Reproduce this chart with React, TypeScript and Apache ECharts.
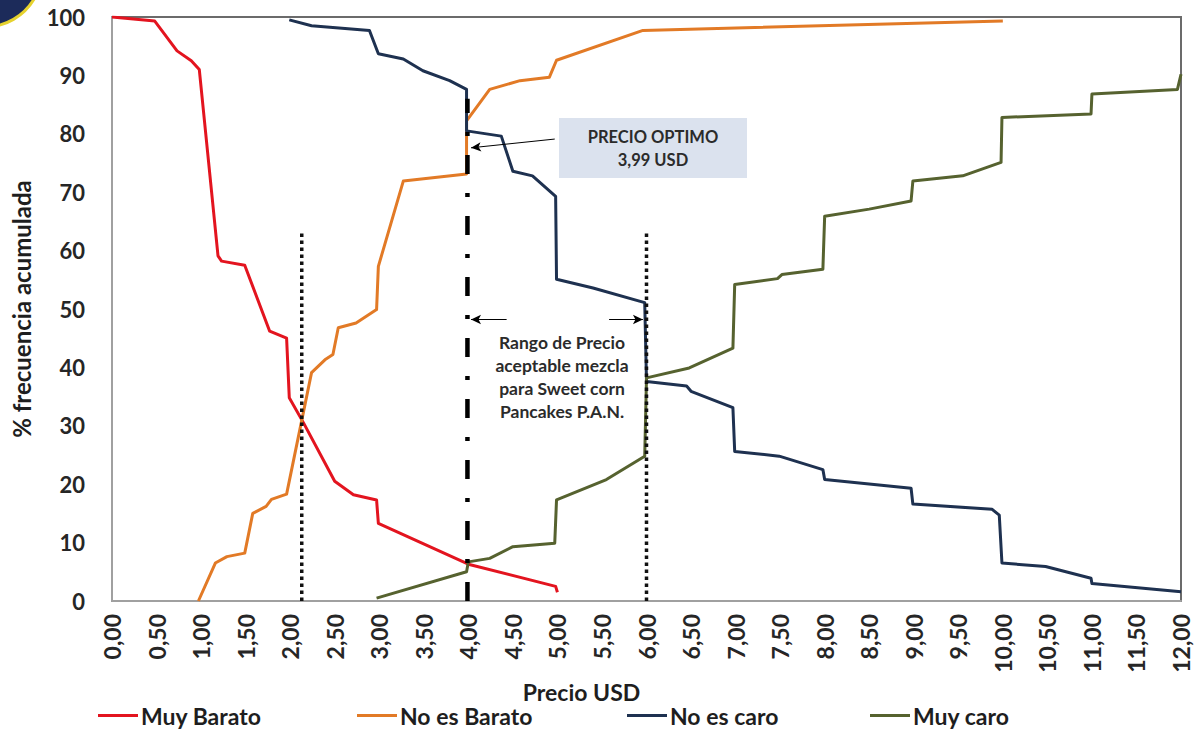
import React, { useEffect, useRef } from "react";
import * as echarts from "echarts";

// ---- Data ----
const xTicks = { min: 0, max: 12, interval: 0.5 };
const yTicks = { min: 0, max: 100, interval: 10 };

const muyBaratoX = [0, 0.48, 0.73, 0.89, 0.98, 1.19, 1.23, 1.49, 1.77, 1.96, 1.99, 2.15, 2.5, 2.71, 2.97, 2.99, 4.0, 4.98, 5.0];
const muyBaratoY = [100, 99.3, 94.2, 92.5, 91, 59.1, 58.2, 57.5, 46.2, 45, 34.8, 30.5, 20.5, 18.2, 17.3, 13.3, 6.3, 2.5, 1.5];

const noEsBaratoX = [0.97, 1.16, 1.29, 1.49, 1.58, 1.73, 1.79, 1.96, 2.24, 2.39, 2.48, 2.54, 2.74, 2.97, 2.99, 3.27, 3.98, 3.98, 4.24, 4.58, 4.91, 4.99, 5.96, 10.0];
const noEsBaratoY = [0, 6.5, 7.6, 8.2, 15, 16.2, 17.4, 18.3, 39.1, 41.3, 42.2, 46.8, 47.6, 49.9, 57.3, 71.9, 73.1, 82.2, 87.6, 89.1, 89.7, 92.6, 97.7, 99.3];

const noEsCaroX = [1.99, 2.24, 2.89, 2.99, 3.27, 3.49, 3.79, 3.98, 3.98, 4.37, 4.5, 4.72, 4.98, 4.99, 5.4, 5.98, 6.0, 6.45, 6.5, 6.97, 6.99, 7.49, 7.98, 8.0, 8.97, 8.99, 9.88, 9.96, 9.99, 10.48, 10.99, 11.0, 12.0];
const noEsCaroY = [99.5, 98.5, 97.7, 93.7, 92.8, 90.8, 89.1, 87.6, 80.5, 79.6, 73.6, 72.8, 69.3, 55.1, 53.6, 51.1, 37.6, 36.8, 35.9, 33.1, 25.6, 24.8, 22.5, 20.8, 19.3, 16.6, 15.7, 14.7, 6.5, 5.9, 3.9, 3.0, 1.6];

const muyCaroX = [2.97, 3.98, 4.0, 4.24, 4.5, 4.97, 4.99, 5.55, 5.98, 6.0, 6.48, 6.97, 6.99, 7.47, 7.52, 7.98, 8.0, 8.5, 8.97, 8.99, 9.55, 9.98, 9.99, 10.99, 11.0, 11.96, 12.0];
const muyCaroY = [0.5, 5.0, 6.7, 7.3, 9.3, 9.9, 17.3, 20.8, 24.8, 38.2, 39.9, 43.3, 54.2, 55.2, 55.9, 56.8, 65.9, 67.1, 68.5, 71.9, 72.8, 75.1, 82.8, 83.4, 86.8, 87.6, 90.2];

const seriesNames = ["Muy Barato", "No es Barato", "No es caro", "Muy caro"];
const seriesColors = ["#e3141f", "#e27a26", "#1e3150", "#56622f"];

// annotation values
const optimoPrice = 3.99;
const optimoTop = 86;
const rangeLowPrice = 2.13;
const rangeLowTop = 63.5;
const rangeHighPrice = 6.0;
const rangeHighTop = 63;
const optimoArrow = { from: [4.97, 79.1], to: [4.03, 77.6] };
const rangeArrowY = 48.2;
const rangeArrowLeft = { from: 4.43, to: 4.03 };
const rangeArrowRight = { from: 5.58, to: 5.96 };

const optimoLabel = ["PRECIO OPTIMO", "3,99 USD"];
const rangoLabel = ["Rango de Precio", "aceptable mezcla", "para Sweet corn", "Pancakes P.A.N."];

const zip = (xs: number[], ys: number[]) => xs.map((x, i) => [x, ys[i]]);
const fmt = (v: number) => v.toFixed(2).replace(".", ",");

const FONT = "Lato, 'Open Sans', sans-serif";

export default function App() {
  const ref = useRef<HTMLDivElement>(null);

  useEffect(() => {
    if (!ref.current) return;
    const chart = echarts.init(ref.current, undefined, { renderer: "svg" });

    const dataSets = [
      zip(muyBaratoX, muyBaratoY),
      zip(noEsBaratoX, noEsBaratoY),
      zip(noEsCaroX, noEsCaroY),
      zip(muyCaroX, muyCaroY),
    ];

    const mainSeries = seriesNames.map((name, i) => ({
      name,
      type: "line",
      data: dataSets[i],
      symbol: "none",
      color: seriesColors[i],
      lineStyle: { color: seriesColors[i], width: 3, join: "round" },
      z: 3,
    }));

    const arrowLine = (from: number[], to: number[]) => [
      { coord: from, symbol: "none" },
      { coord: to, symbol: "arrow" },
    ];

    const annotationSeries = [
      {
        name: "rangeLow",
        type: "line",
        data: [[rangeLowPrice, 0], [rangeLowPrice, rangeLowTop]],
        symbol: "none",
        lineStyle: { color: "#111", width: 3.5, type: [3.5, 3.5] },
        z: 4,
        silent: true,
      },
      {
        name: "rangeHigh",
        type: "line",
        data: [[rangeHighPrice, 0], [rangeHighPrice, rangeHighTop]],
        symbol: "none",
        lineStyle: { color: "#111", width: 3.5, type: [3.5, 3.5] },
        z: 4,
        silent: true,
      },
      {
        name: "optimo",
        type: "line",
        data: [[optimoPrice, 0], [optimoPrice, optimoTop]],
        symbol: "none",
        lineStyle: { color: "#000", width: 4.5, type: [19, 19, 4, 19] },
        z: 4,
        silent: true,
        markLine: {
          silent: true,
          animation: false,
          symbolSize: [7, 10],
          lineStyle: { color: "#000", width: 1, type: "solid" },
          label: { show: false },
          data: [
            arrowLine(optimoArrow.from, optimoArrow.to),
            arrowLine([rangeArrowLeft.from, rangeArrowY], [rangeArrowLeft.to, rangeArrowY]),
            arrowLine([rangeArrowRight.from, rangeArrowY], [rangeArrowRight.to, rangeArrowY]),
          ],
        },
      },
    ];

    const legendLefts = [98, 357, 627, 870];

    chart.setOption({
      animation: false,
      backgroundColor: "#ffffff",
      grid: {
        left: 112,
        right: 14,
        top: 17,
        bottom: 133,
        show: true,
        borderColor: "#6b6b6b",
        borderWidth: 2,
      },
      legend: seriesNames.map((n, i) => ({
        data: [n],
        left: legendLefts[i],
        top: 704,
        icon: "rect",
        itemWidth: 40,
        itemHeight: 3,
        itemGap: 0,
        padding: 0,
        selectedMode: false,
        textStyle: { fontFamily: FONT, fontSize: 23, fontWeight: "bold", color: "#1e1e1e", padding: [0, 0, 0, -2] },
      })),
      xAxis: {
        type: "value",
        min: xTicks.min,
        max: xTicks.max,
        interval: xTicks.interval,
        name: "Precio USD",
        nameLocation: "middle",
        nameGap: 76,
        nameTextStyle: {
          fontFamily: FONT,
          fontSize: 23,
          fontWeight: "bold",
          color: "#1e1e1e",
          padding: [0, 130, 0, 0],
        },
        axisLine: { lineStyle: { color: "#a0a0a0", width: 2 } },
        axisTick: { show: false },
        splitLine: { show: false },
        axisLabel: {
          rotate: 90,
          margin: 13,
          formatter: (v: number) => fmt(v),
          fontFamily: FONT,
          fontSize: 23,
          fontWeight: "bold",
          color: "#262626",
        },
      },
      yAxis: {
        type: "value",
        min: yTicks.min,
        max: yTicks.max,
        interval: yTicks.interval,
        name: "% frecuencia acumulada",
        nameLocation: "middle",
        nameGap: 79,
        nameTextStyle: { fontFamily: FONT, fontSize: 24, fontWeight: "bold", color: "#1e1e1e" },
        axisLine: { show: true, lineStyle: { color: "#a0a0a0", width: 2 } },
        axisTick: { show: false },
        splitLine: { show: false },
        axisLabel: {
          margin: 27,
          fontFamily: FONT,
          fontSize: 22,
          fontWeight: "bold",
          color: "#262626",
        },
      },
      series: [...mainSeries, ...annotationSeries],
      graphic: [
        {
          type: "circle",
          shape: { cx: -15, cy: -30, r: 57 },
          style: { fill: "#1c2b5a", stroke: "#e6d22e", lineWidth: 3 },
          z: 10,
        },
        {
          type: "rect",
          shape: { x: 559, y: 118, width: 188, height: 60 },
          style: { fill: "#dbe2ee" },
          z: 10,
        },
        {
          type: "text",
          x: 653,
          y: 148.5,
          style: {
            text: optimoLabel.join("\n"),
            fontFamily: FONT,
            fontSize: 16.5,
            fontWeight: "bold",
            fill: "#2b2b2b",
            align: "center",
            verticalAlign: "middle",
            lineHeight: 23,
          },
          z: 11,
        },
        {
          type: "text",
          x: 562,
          y: 377,
          style: {
            text: rangoLabel.join("\n"),
            fontFamily: FONT,
            fontSize: 17.5,
            fontWeight: "bold",
            fill: "#2b2b2b",
            align: "center",
            verticalAlign: "middle",
            lineHeight: 23.3,
          },
          z: 11,
        },
      ],
    });

    return () => chart.dispose();
  }, []);

  return (
    <div
      ref={ref}
      style={{ position: "fixed", left: 0, top: 0, width: 1195, height: 734, background: "#fff" }}
    />
  );
}
